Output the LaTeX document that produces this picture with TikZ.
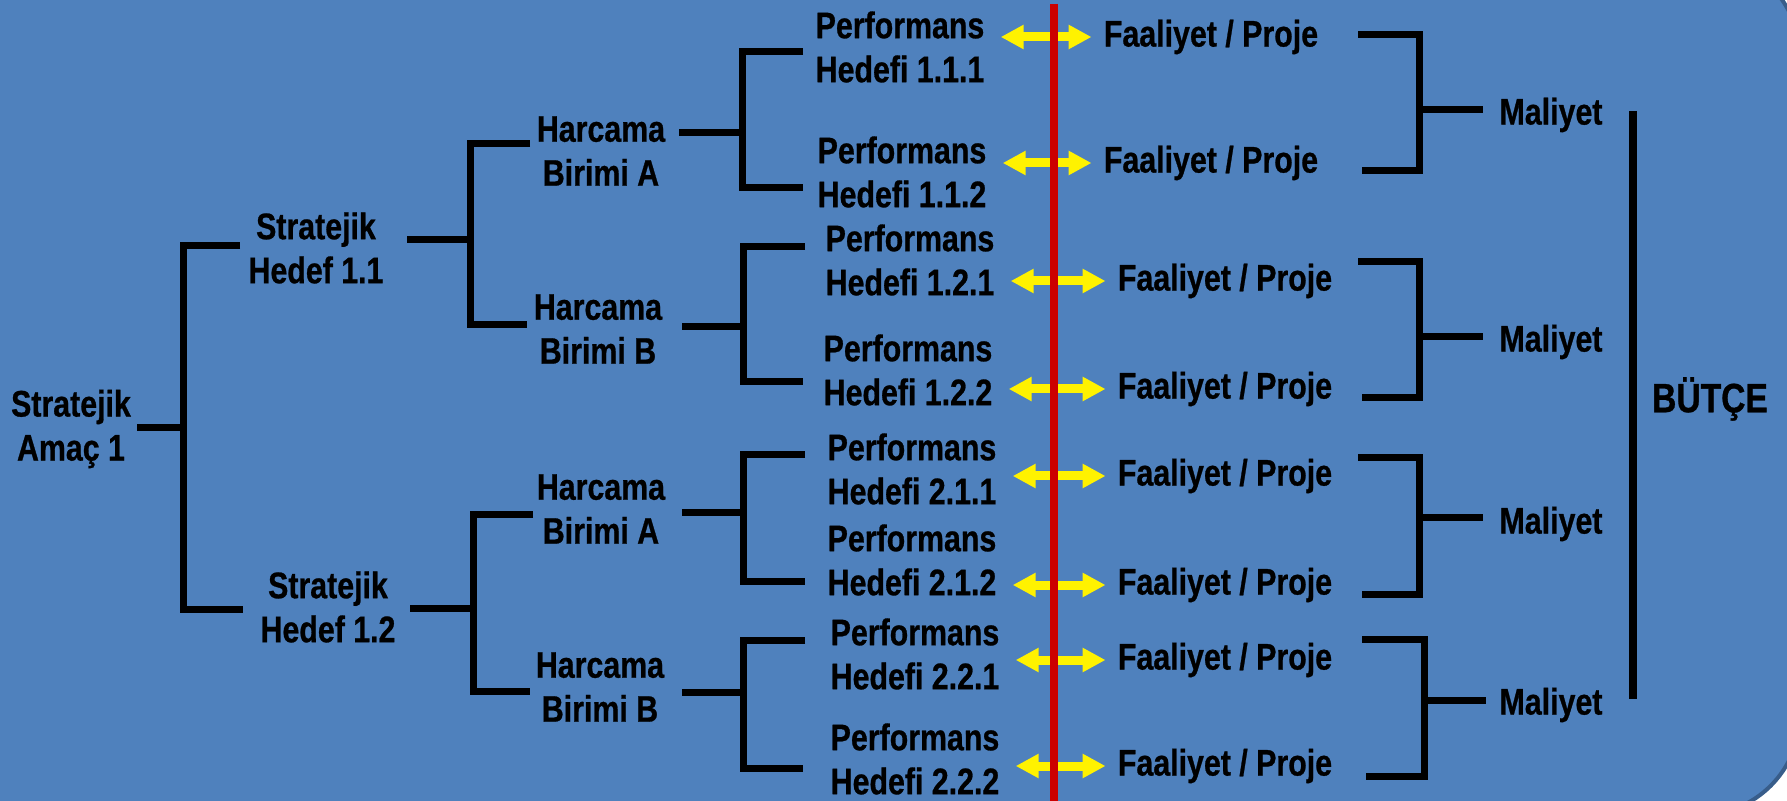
\documentclass[tikz,border=0pt]{standalone}
\usepackage{fontspec}
\newfontfamily\narrowsans[FakeStretch=0.82, BoldFeatures={FakeBold=0.7}]{Liberation Sans}
\usetikzlibrary{arrows.meta}
\definecolor{slideblue}{RGB}{79,129,189}
\definecolor{slideedge}{RGB}{56,93,138}
\definecolor{linered}{RGB}{204,0,0}

\begin{document}
\begin{tikzpicture}[x=0.5pt, y=-0.5pt]
\tikzset{
    lbl/.style= {font=\narrowsans\bfseries\fontsize{18.5}{22}\selectfont, align=center, inner sep=0pt},
    biglbl/.style= {lbl, font=\narrowsans\bfseries\fontsize{20.5}{24}\selectfont},
    brk/.style= {line width=3.5pt, black},
    yarr/.style= {line width=4.5pt, yellow, {Triangle[length=11.5pt,width=11.5pt]}-{Triangle[length=11.5pt,width=11.5pt]}, shorten <=8pt, shorten >=6pt},
}

% slide background
\useasboundingbox (0,0) rectangle (1787,801);
\fill[white] (0,0) rectangle (1787,801);
\filldraw[fill=slideblue, draw=slideedge, line width=2pt, rounded corners=50pt] (-200,-43) rectangle (1800,815);

% tree nodes
\node[lbl] (sa) at (71,429) {Stratejik\\Amaç 1};
\node[lbl] (sh1) at (316,248) {Stratejik\\Hedef 1.1};
\node[lbl] (sh2) at (328,607) {Stratejik\\Hedef 1.2};

\node[lbl] (hA1) at (601,151) {Harcama\\Birimi A};
\node[lbl] (hB1) at (598,329) {Harcama\\Birimi B};
\node[lbl] (hA2) at (601,509) {Harcama\\Birimi A};
\node[lbl] (hB2) at (600,687) {Harcama\\Birimi B};

\node[lbl] (p111) at (900,47) {Performans\\Hedefi 1.1.1};
\node[lbl] (p112) at (902,172) {Performans\\Hedefi 1.1.2};
\node[lbl] (p121) at (910,260) {Performans\\Hedefi 1.2.1};
\node[lbl] (p122) at (908,370) {Performans\\Hedefi 1.2.2};
\node[lbl] (p211) at (912,469) {Performans\\Hedefi 2.1.1};
\node[lbl] (p212) at (912,560) {Performans\\Hedefi 2.1.2};
\node[lbl] (p221) at (915,654) {Performans\\Hedefi 2.2.1};
\node[lbl] (p222) at (915,759) {Performans\\Hedefi 2.2.2};

\node[lbl] (f1) at (1211,37) {Faaliyet / Proje};
\node[lbl] (f2) at (1211,163) {Faaliyet / Proje};
\node[lbl] (f3) at (1225,281) {Faaliyet / Proje};
\node[lbl] (f4) at (1225,389) {Faaliyet / Proje};
\node[lbl] (f5) at (1225,476) {Faaliyet / Proje};
\node[lbl] (f6) at (1225,585) {Faaliyet / Proje};
\node[lbl] (f7) at (1225,660) {Faaliyet / Proje};
\node[lbl] (f8) at (1225,766) {Faaliyet / Proje};

\node[lbl] (m1) at (1551,115) {Maliyet};
\node[lbl] (m2) at (1551,342) {Maliyet};
\node[lbl] (m3) at (1551,524) {Maliyet};
\node[lbl] (m4) at (1551,705) {Maliyet};

\node[biglbl] (butce) at (1710,399) {BÜTÇE};

% brackets, left to right
\coordinate (sa-s) at (137,428);
\coordinate (sa-j) at (183,428);
\coordinate (sa-t) at (240,246);
\coordinate (sa-b) at (243,609);
\draw[brk] (sa-s) -- (sa-j) (sa-t) -| (sa-j) |- (sa-b);

\coordinate (sh1-s) at (407,240);
\coordinate (sh1-j) at (470,240);
\coordinate (sh1-t) at (530,144);
\coordinate (sh1-b) at (527,325);
\draw[brk] (sh1-s) -- (sh1-j) (sh1-t) -| (sh1-j) |- (sh1-b);

\coordinate (sh2-s) at (410,608);
\coordinate (sh2-j) at (473,608);
\coordinate (sh2-t) at (533,515);
\coordinate (sh2-b) at (530,691);
\draw[brk] (sh2-s) -- (sh2-j) (sh2-t) -| (sh2-j) |- (sh2-b);

\coordinate (hA1-s) at (679,133);
\coordinate (hA1-j) at (742,133);
\coordinate (hA1-t) at (803,52);
\coordinate (hA1-b) at (803,188);
\draw[brk] (hA1-s) -- (hA1-j) (hA1-t) -| (hA1-j) |- (hA1-b);

\coordinate (hB1-s) at (682,327);
\coordinate (hB1-j) at (743,327);
\coordinate (hB1-t) at (805,247);
\coordinate (hB1-b) at (803,382);
\draw[brk] (hB1-s) -- (hB1-j) (hB1-t) -| (hB1-j) |- (hB1-b);

\coordinate (hA2-s) at (682,513);
\coordinate (hA2-j) at (743,513);
\coordinate (hA2-t) at (805,455);
\coordinate (hA2-b) at (805,581);
\draw[brk] (hA2-s) -- (hA2-j) (hA2-t) -| (hA2-j) |- (hA2-b);

\coordinate (hB2-s) at (682,692);
\coordinate (hB2-j) at (743,692);
\coordinate (hB2-t) at (805,640);
\coordinate (hB2-b) at (803,768);
\draw[brk] (hB2-s) -- (hB2-j) (hB2-t) -| (hB2-j) |- (hB2-b);

% brackets into Maliyet
\coordinate (m1-t) at (1358,35);
\coordinate (m1-b) at (1362,171);
\coordinate (m1-j) at (1419,110);
\coordinate (m1-s) at (1483,110);
\draw[brk] (m1-t) -| (m1-j) |- (m1-b) (m1-j) -- (m1-s);

\coordinate (m2-t) at (1358,262);
\coordinate (m2-b) at (1362,398);
\coordinate (m2-j) at (1419,337);
\coordinate (m2-s) at (1483,337);
\draw[brk] (m2-t) -| (m2-j) |- (m2-b) (m2-j) -- (m2-s);

\coordinate (m3-t) at (1358,458);
\coordinate (m3-b) at (1362,594);
\coordinate (m3-j) at (1419,518);
\coordinate (m3-s) at (1483,518);
\draw[brk] (m3-t) -| (m3-j) |- (m3-b) (m3-j) -- (m3-s);

\coordinate (m4-t) at (1362,639);
\coordinate (m4-b) at (1366,776);
\coordinate (m4-j) at (1424,700);
\coordinate (m4-s) at (1486,700);
\draw[brk] (m4-t) -| (m4-j) |- (m4-b) (m4-j) -- (m4-s);

% budget bar
\coordinate (bar-t) at (1633,111);
\coordinate (bar-b) at (1633,699);
\draw[line width=4pt] (bar-t) -- (bar-b);

% yellow links, red line on top
\draw[yarr] (p111.east |- f1) -- (f1);
\draw[yarr] (p112.east |- f2) -- (f2);
\draw[yarr] (p121.east |- f3) -- (f3);
\draw[yarr] (p122.east |- f4) -- (f4);
\draw[yarr] (p211.east |- f5) -- (f5);
\draw[yarr] (p212.east |- f6) -- (f6);
\draw[yarr] (p221.east |- f7) -- (f7);
\draw[yarr] (p222.east |- f8) -- (f8);

\coordinate (red-t) at (1054,4);
\coordinate (red-b) at (1054,815);
\draw[line width=4pt, linered] (red-t) -- (red-b);
\end{tikzpicture}
\end{document}
